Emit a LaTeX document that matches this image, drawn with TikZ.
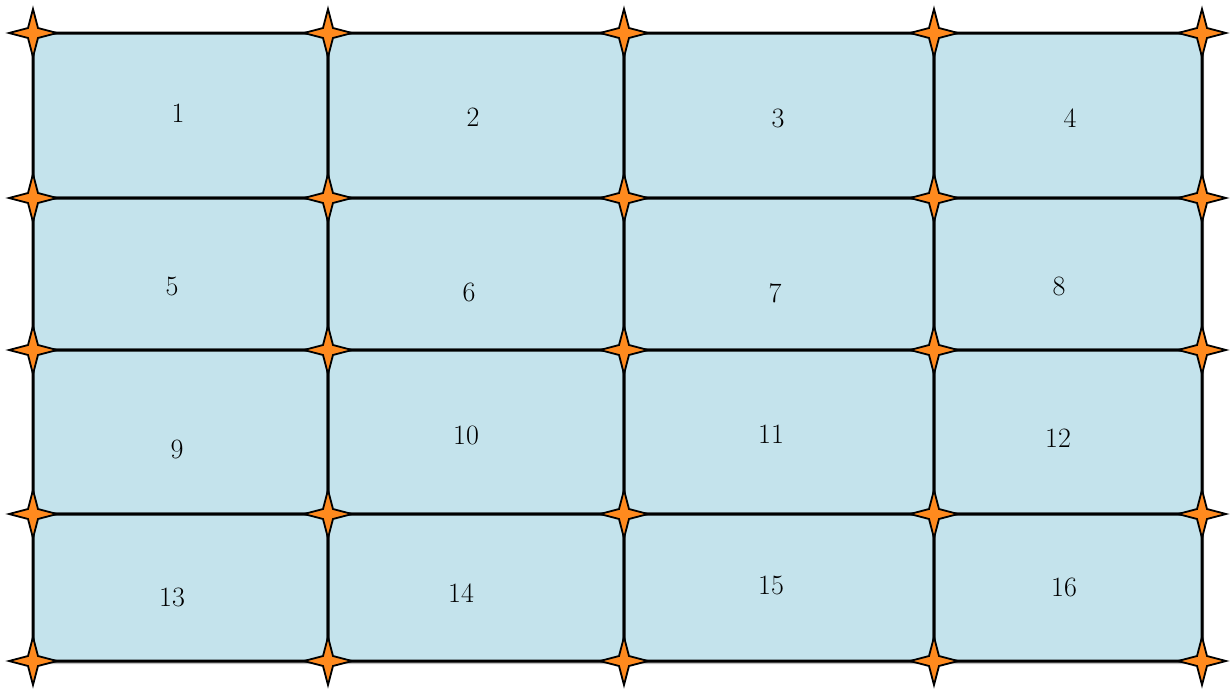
\documentclass[tikz,border=0pt]{standalone}
\usetikzlibrary{shapes.geometric}
\definecolor{cellblue}{HTML}{C4E3EC}
\definecolor{starorange}{HTML}{FF8A1E}
\begin{document}
\begin{tikzpicture}[x=1pt,y=-1pt,
  cell/.style={draw=black, line width=3pt, fill=cellblue, rounded corners=11pt, inner sep=0pt},
  shade/.style={fill=black!25, rounded corners=11pt, inner sep=0pt, draw=none},
  lab/.style={font=\fontsize{28}{34}\selectfont, inner sep=0pt},
  starnode/.style={star, star points=4, star point ratio=3.4, fill=starorange, draw=black, line width=1.8pt, minimum size=48pt, inner sep=0pt}]
\useasboundingbox (0,0) rectangle (1232,689);
\def\xs{{33,328,624,934,1202}}
\def\ys{{33,198,350,514,661}}
% cells
\foreach \r in {0,...,3}{
  \foreach \c in {0,...,3}{
    \pgfmathsetmacro\xa{\xs[\c]}
    \pgfmathsetmacro\xb{\xs[\c+1]}
    \pgfmathsetmacro\ya{\ys[\r]}
    \pgfmathsetmacro\yb{\ys[\r+1]}
    \pgfmathsetmacro\w{\xb-\xa}
    \pgfmathsetmacro\h{\yb-\ya}
    \pgfmathtruncatemacro\n{4*\r+\c+1}
    \node[shade, minimum width=\w pt, minimum height=\h pt] (sh\n) at ({(\xa+\xb)/2+2},{(\ya+\yb)/2+3}) {};
    \node[cell, minimum width=\w pt, minimum height=\h pt] (c\n) at ({(\xa+\xb)/2},{(\ya+\yb)/2}) {};
  }
}
% labels
\node[lab] (l1) at (178,113) {1};
\node[lab] (l2) at (473,117) {2};
\node[lab] (l3) at (778,118) {3};
\node[lab] (l4) at (1070,118) {4};
\node[lab] (l5) at (172,286) {5};
\node[lab] (l6) at (469,292) {6};
\node[lab] (l7) at (775,293) {7};
\node[lab] (l8) at (1059,286) {8};
\node[lab] (l9) at (177,449) {9};
\node[lab] (l10) at (466,435) {10};
\node[lab] (l11) at (771,434) {11};
\node[lab] (l12) at (1058,438) {12};
\node[lab] (l13) at (172,597) {13};
\node[lab] (l14) at (461,593) {14};
\node[lab] (l15) at (771,585) {15};
\node[lab] (l16) at (1064,587) {16};
% stars
\foreach \r in {0,...,4}{
  \foreach \c in {0,...,4}{
    \pgfmathsetmacro\xa{\xs[\c]}
    \pgfmathsetmacro\ya{\ys[\r]}
    \node[starnode] (s-\r-\c) at (\xa,\ya) {};
  }
}
\end{tikzpicture}
\end{document}
